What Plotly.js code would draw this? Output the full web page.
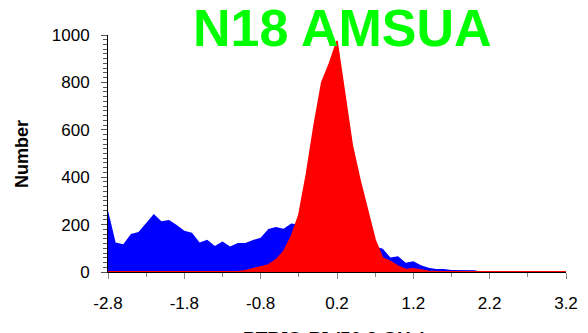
<!DOCTYPE html>
<html>
<head>
<meta charset="utf-8">
<script src="https://cdn.plot.ly/plotly-3.0.1.min.js"></script>
<style>html,body{margin:0;padding:0;background:#fff;}#chart{width:588px;height:333px;}</style>
</head>
<body>
<div id="chart"></div>
<script>
// Bin centres (PTB[O-B] values)
var bins = [-2.8,-2.7,-2.6,-2.5,-2.4,-2.3,-2.2,-2.1,-2.0,-1.9,
            -1.8,-1.7,-1.6,-1.5,-1.4,-1.3,-1.2,-1.1,-1.0,-0.9,
            -0.8,-0.7,-0.6,-0.5,-0.4,-0.3,-0.2,-0.1,0.0,0.1,
            0.2,0.3,0.4,0.5,0.6,0.7,0.8,0.9,1.0,1.1,
            1.2,1.3,1.4,1.5,1.6,1.7,1.8,1.9,2.0,2.1,
            2.2,2.3,2.4,2.5,2.6,2.7,2.8,2.9,3.0,3.1,3.2];

// Blue series (before correction)
var blueCounts = [259,124,117,160,169,205,245,214,219,198,
                  174,166,125,136,110,129,108,122,122,135,
                  145,181,190,183,205,200,215,225,230,225,
                  215,195,170,150,125,108,98,61,66,39,
                  45,28,18,13,13,8,7,7,7,1,
                  0,0,0,0,0,0,0,0,0,0,0];

// Red series (after correction)
var redCounts = [1,1,1,1,1,1,1,1,1,1,
                 1,1,1,1,1,1,1,1,5,14,
                 22,30,51,86,149,240,415,620,800,880,
                 975,750,535,390,256,135,58,45,25,11,
                 14,7,3,2,1,1,1,1,1,1,
                 1,1,1,1,1,1,1,1,1,1,1];

var xTickVals = [-2.8,-1.8,-0.8,0.2,1.2,2.2,3.2];
var xTickText = ["-2.8","-1.8","-0.8","0.2","1.2","2.2","3.2"];
var yTickVals = [0,200,400,600,800,1000];

var titleText = "N18 AMSUA";
var xTitle = "PTB[O-B] (50.3 GHz)";
var yTitle = "Number";

var font = "Arial, 'Liberation Sans', sans-serif";

var traces = [
  {x: bins, y: blueCounts, type: 'scatter', mode: 'lines', fill: 'tozeroy',
   fillcolor: '#0000FF', line: {color: '#0000FF', width: 0}, hoverinfo: 'skip'},
  {x: bins, y: redCounts, type: 'scatter', mode: 'lines', fill: 'tozeroy',
   fillcolor: '#FF0000', line: {color: '#FF0000', width: 1.5}, hoverinfo: 'skip'}
];

var layout = {
  width: 588, height: 333,
  margin: {l: 108, r: 21.5, t: 35, b: 61, pad: 0},
  paper_bgcolor: '#fff', plot_bgcolor: '#fff',
  showlegend: false,
  font: {family: font, color: '#000'},
  xaxis: {
    range: [-2.8, 3.2], tickvals: xTickVals, ticktext: xTickText,
    ticks: 'outside', ticklen: 6, tickcolor: '#888', tickwidth: 1,
    showline: true, linecolor: '#000', linewidth: 1,
    showgrid: false, zeroline: false,
    tickfont: {size: 17, family: font, color: '#000'},
    ticklabelstandoff: 10,
    minor: {dtick: 0.5, tick0: -2.8, ticks: 'outside', ticklen: 4, tickcolor: '#888', showgrid: false}
  },
  yaxis: {
    range: [0, 1000], tickvals: yTickVals,
    ticks: 'outside', ticklen: 6, tickcolor: '#555', tickwidth: 1,
    showline: true, linecolor: '#000', linewidth: 1,
    showgrid: false, zeroline: false,
    tickfont: {size: 17, family: font, color: '#000'},
    ticklabelstandoff: 8,
    minor: {dtick: 20, ticks: 'outside', ticklen: 4, tickcolor: '#555', showgrid: false}
  },
  annotations: [
    {text: titleText, xref: 'paper', yref: 'paper', x: 0.511, y: 1.029,
     xanchor: 'center', yanchor: 'middle', showarrow: false,
     font: {size: 52, family: font, color: '#00FF00', weight: 'bold'}},
    {text: yTitle, xref: 'paper', yref: 'paper', x: -0.189, y: 0.5,
     xanchor: 'center', yanchor: 'middle', textangle: -90, showarrow: false,
     font: {size: 18, family: font, color: '#000', weight: 'bold'}},
    {text: xTitle, xref: 'paper', yref: 'paper', x: 0.495, y: -0.226,
     xanchor: 'center', yanchor: 'top', showarrow: false,
     font: {size: 19, family: font, color: '#000', weight: 'bold'}}
  ]
};

Plotly.newPlot('chart', traces, layout, {staticPlot: true, displayModeBar: false});
</script>
</body>
</html>
